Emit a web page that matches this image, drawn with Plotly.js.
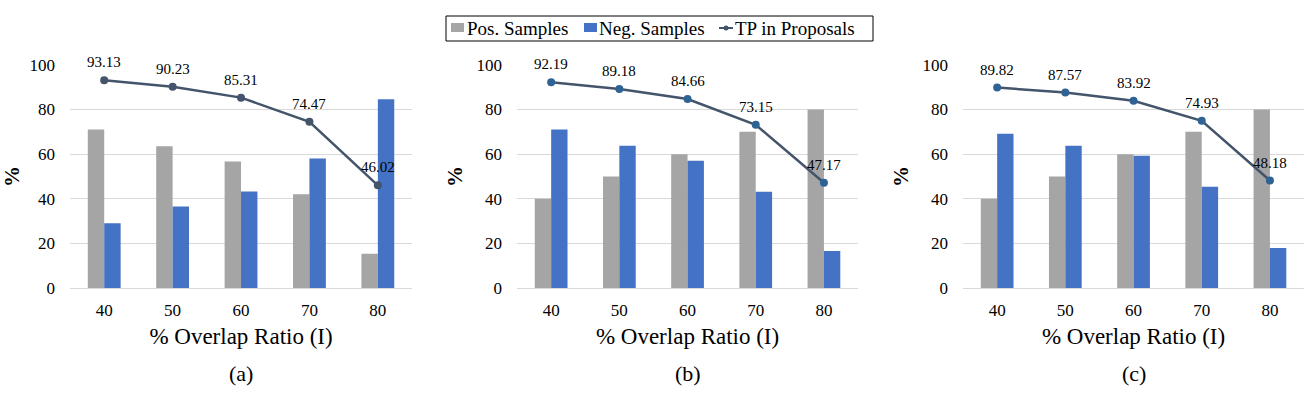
<!DOCTYPE html>
<html>
<head>
<meta charset="utf-8">
<script src="https://cdn.plot.ly/plotly-3.0.1.min.js"></script>
<style>
  html, body { margin: 0; padding: 0; background: #fff; }
  #chart { width: 1316px; height: 393px; }
</style>
</head>
<body>
<div id="chart"></div>
<script>
var ratios = ['40', '50', '60', '70', '80'];

var posA = [71.0, 63.5, 56.7, 42.0, 15.4];
var negA = [29.0, 36.5, 43.3, 58.0, 84.6];
var tpA = [93.13, 90.23, 85.31, 74.47, 46.02];

var posB = [40, 50, 60, 70, 80];
var negB = [71.0, 63.8, 57.0, 43.2, 16.6];
var tpB = [92.19, 89.18, 84.66, 73.15, 47.17];

var posC = [40, 50, 60, 70, 80];
var negC = [69.1, 63.8, 59.3, 45.4, 17.9];
var tpC = [89.82, 87.57, 83.92, 74.93, 48.18];

var panelLabels = ['(a)', '(b)', '(c)'];
var seriesNames = ['Pos. Samples', 'Neg. Samples', 'TP in Proposals'];

var serif = 'Liberation Serif';
var grey = '#A5A5A5';
var blue = '#4472C4';
var lineColor = '#44546A';
var W = 1316, H = 393;

function px(x) { return x / W; }
function py(y) { return 1 - y / H; }

var annotations = [];
var shapes = [];

function panel(pos, neg, tp, n, markerColor) {
    var xa = n === 1 ? 'x' : 'x' + n;
    var ya = n === 1 ? 'y' : 'y' + n;
    // value labels above the line markers (category index on x)
    tp.forEach(function (v, i) {
        annotations.push({
            x: i, y: v, xref: xa, yref: ya,
            text: v.toFixed(2), showarrow: false,
            yshift: 18, xanchor: 'center', yanchor: 'middle',
            font: {family: serif, size: 15, color: '#000'}
        });
    });
    return [
        {
            x: ratios, y: pos, type: 'bar', name: seriesNames[0],
            marker: {color: grey}, xaxis: xa, yaxis: ya
        },
        {
            x: ratios, y: neg, type: 'bar', name: seriesNames[1],
            marker: {color: blue}, xaxis: xa, yaxis: ya
        },
        {
            x: ratios, y: tp, type: 'scatter', mode: 'lines+markers',
            name: seriesNames[2],
            line: {color: lineColor, width: 2.5},
            marker: {color: markerColor, size: 8},
            cliponaxis: false,
            xaxis: xa, yaxis: ya
        }
    ];
}

var data = [].concat(
    panel(posA, negA, tpA, 1, lineColor),
    panel(posB, negB, tpB, 2, '#2F6393'),
    panel(posC, negC, tpC, 3, '#2F6393')
);

// legend drawn by hand to get the compact boxed look
shapes.push({type: 'rect', xref: 'paper', yref: 'paper',
    x0: px(446), x1: px(873), y0: py(41), y1: py(16),
    line: {color: '#000', width: 1}, fillcolor: 'rgba(0,0,0,0)'});
shapes.push({type: 'rect', xref: 'paper', yref: 'paper',
    x0: px(451), x1: px(464), y0: py(32), y1: py(23),
    line: {width: 0}, fillcolor: grey});
shapes.push({type: 'rect', xref: 'paper', yref: 'paper',
    x0: px(584), x1: px(597), y0: py(32), y1: py(23),
    line: {width: 0}, fillcolor: blue});
shapes.push({type: 'line', xref: 'paper', yref: 'paper',
    x0: px(719), x1: px(733), y0: py(28), y1: py(28),
    line: {color: lineColor, width: 2}});
shapes.push({type: 'circle', xref: 'paper', yref: 'paper',
    x0: px(723.5), x1: px(728.5), y0: py(30.5), y1: py(25.5),
    line: {width: 0}, fillcolor: lineColor});
[[465, seriesNames[0]], [597, seriesNames[1]], [733, seriesNames[2]]].forEach(function (e) {
    annotations.push({
        text: e[1], xref: 'paper', yref: 'paper',
        x: px(e[0]), y: py(28.5), xanchor: 'left', yanchor: 'middle',
        showarrow: false,
        font: {family: serif, size: 19, color: '#000'}
    });
});

var xDomains = [[0.0532, 0.3131], [0.3929, 0.652], [0.7318, 0.9909]];
var yDomain = [0.267, 0.835];

var layout = {
    width: W,
    height: H,
    margin: {l: 0, r: 0, t: 0, b: 0},
    paper_bgcolor: '#fff',
    plot_bgcolor: '#fff',
    font: {family: serif, color: '#000'},
    barmode: 'group',
    bargap: 0.52,
    bargroupgap: 0,
    showlegend: false,
    shapes: shapes,
    annotations: annotations
};

xDomains.forEach(function (d, i) {
    var s = i === 0 ? '' : String(i + 1);
    layout['xaxis' + s] = {
        domain: d,
        anchor: 'y' + s,
        type: 'category',
        range: [-0.5, ratios.length - 0.5],
        showgrid: false,
        showline: true,
        linecolor: '#D9D9D9',
        linewidth: 1,
        ticks: '',
        ticklabelstandoff: 7,
        tickfont: {family: serif, size: 17, color: '#000'},
        title: {
            text: '% Overlap Ratio (I)',
            font: {family: serif, size: 23, color: '#000'},
            standoff: 8
        },
        fixedrange: true
    };
    layout['yaxis' + s] = {
        domain: yDomain,
        anchor: 'x' + s,
        range: [0, 100],
        dtick: 20,
        showgrid: true,
        gridcolor: '#D9D9D9',
        gridwidth: 1,
        zeroline: false,
        showline: false,
        ticks: '',
        ticklabelstandoff: 14,
        tickfont: {family: serif, size: 17, color: '#000'},
        title: {
            text: '<b>%</b>',
            font: {family: serif, size: 21, color: '#000'},
            standoff: 8
        },
        fixedrange: true
    };
    annotations.push({
        text: panelLabels[i],
        xref: 'paper', yref: 'paper',
        x: (d[0] + d[1]) / 2, y: py(373),
        xanchor: 'center', yanchor: 'middle',
        showarrow: false,
        font: {family: serif, size: 22, color: '#000'}
    });
});

Plotly.newPlot(document.getElementById('chart'), data, layout, {displayModeBar: false, staticPlot: true});
</script>
</body>
</html>
